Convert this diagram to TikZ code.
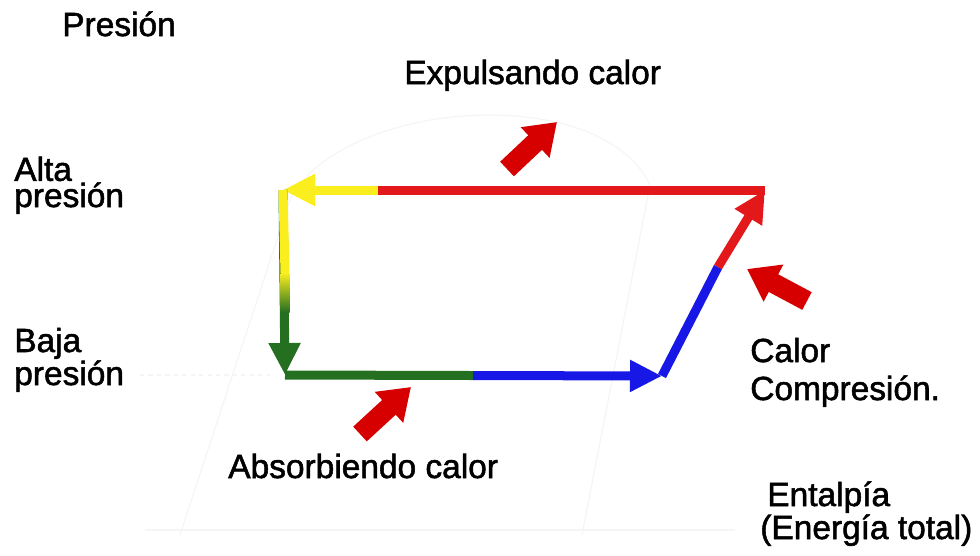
\documentclass[tikz,border=0pt]{standalone}
\usepackage{fontspec}
\setmainfont{Liberation Sans}
\newfontfamily\lblfont{Liberation Sans}[FakeBold=1.6]
\usetikzlibrary{arrows.meta}
\definecolor{cycred}{RGB}{226,24,26}
\definecolor{cycyellow}{RGB}{250,238,30}
\definecolor{cycgreen}{RGB}{36,112,32}
\definecolor{litegreen}{RGB}{70,200,30}
\definecolor{cycblue}{RGB}{24,24,230}
\definecolor{heatred}{RGB}{214,0,0}
\tikzset{
  leg/.style={line width=0.225cm},
  legtip/.style={leg, -{Triangle[length=0.8cm, width=0.75cm]}},
  heat/.style={line width=0.5cm, color=heatred,
               -{Triangle[length=0.75cm, width=1cm]}},
  lbl/.style={font=\lblfont\fontsize{23.8}{18.6}\selectfont, align=left, inner sep=0pt},
  faint/.style={draw=black!4, line width=0.03cm},
}

\begin{document}
\begin{tikzpicture}[x=0.025cm, y=-0.025cm]
    \useasboundingbox (0,0) rectangle (980,555);
    % faint background of the chart
    \draw[faint] (145,530) -- (735,530);
    \draw[faint, dashed] (140,375) -- (270,375);
    \draw[faint] (180,535) -- (290,200) .. controls (340,100) and (600,80) .. (650,185) -- (582,535);
    % corners of the cycle
    \coordinate (tr) at (765,190);
    \coordinate (tl) at (283,190);
    \coordinate (bl) at (285,375);
    \coordinate (br) at (662,376);
    \coordinate (topmix) at (378,190);
    \coordinate (sidemix) at (285,273);
    \coordinate (botmix) at (473,375.5);
    \coordinate (diagmix) at (718,267);
    % the cycle
    \draw[leg, cycred] (tr) -- (topmix);
    \draw[legtip, cycyellow] (topmix) -- (tl);
    \draw[legtip, cycgreen] (tl) -- (bl);
    \draw[leg, cycyellow] (tl) -- (sidemix);
    \shade[top color=cycyellow, middle color=litegreen, bottom color=cycgreen]
          (280.5,273) rectangle (289.5,312);
    \draw[leg, cycgreen] (bl) -- (botmix);
    \draw[legtip, cycblue] (botmix) -- (br);
    \draw[leg, cycblue] (br) -- (diagmix);
    \draw[legtip, cycred] (diagmix) -- (tr);
    % heat arrows
    \coordinate (out1) at (507,169); \coordinate (out2) at (557,122);
    \coordinate (cmp1) at (807,301); \coordinate (cmp2) at (747,269);
    \coordinate (in1) at (360,434);  \coordinate (in2) at (411,387);
    \draw[heat] (out1) -- (out2);
    \draw[heat] (cmp1) -- (cmp2);
    \draw[heat] (in1) -- (in2);
    % labels (base = last line)
    \node[lbl, anchor=base west] (presion) at (62,36) {Presión};
    \node[lbl, anchor=base west] (expulsa) at (404,84) {Expulsando calor};
    \node[lbl, anchor=base west] (alta) at (14,207) {Alta\\presión};
    \node[lbl, anchor=base west] (baja) at (14,385) {Baja\\presión};
    \node[lbl, anchor=base west, font=\lblfont\fontsize{23.8}{27}\selectfont] (compr) at (750,400) {Calor\\Compresión.};
    \node[lbl, anchor=base west, font=\lblfont\fontsize{23.8}{16.5}\selectfont] (entalpia) at (760,539) {\hspace*{5pt}Entalpía\\(Energía total)};
    \node[lbl, anchor=base west] (absorbe) at (228,478) {Absorbiendo calor};
\end{tikzpicture}
\end{document}
